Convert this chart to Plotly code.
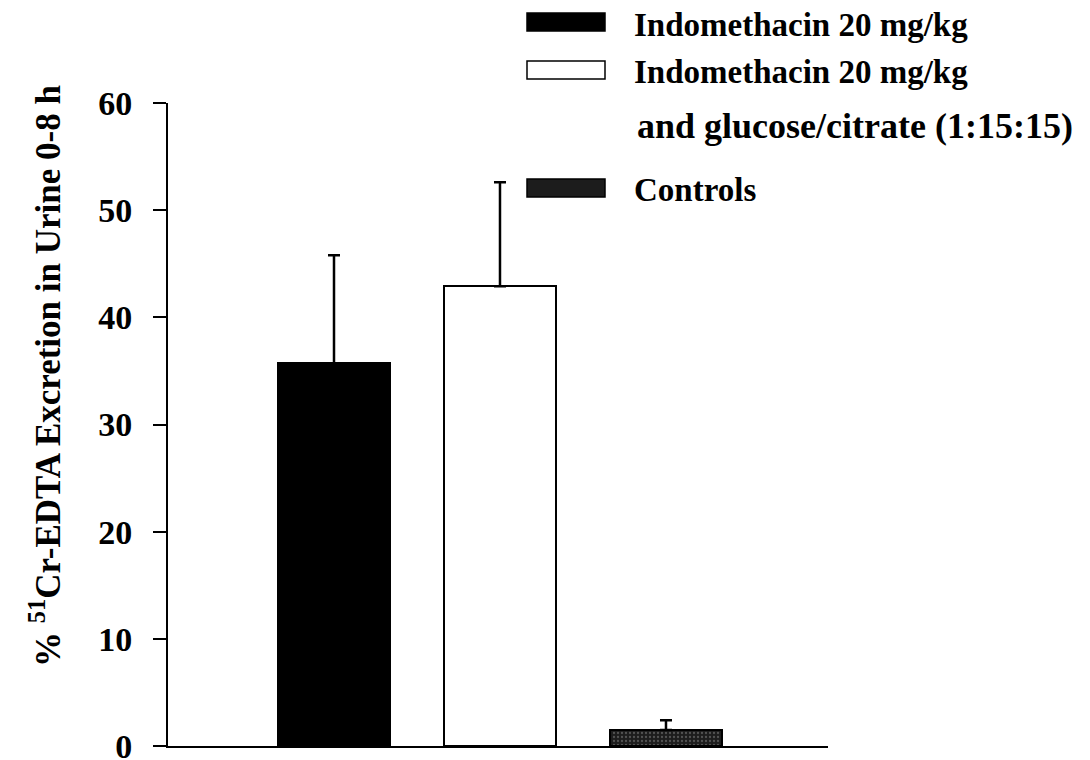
import plotly.graph_objects as go

groups = ["Indomethacin 20 mg/kg",
          "Indomethacin 20 mg/kg<br>and glucose/citrate (1:15:15)",
          "Controls"]
means = [35.7, 42.9, 1.5]
sd_upper = [10.1, 9.7, 0.9]
fills = ["#000000", "#ffffff", "#262626"]
y_ticks = [0, 10, 20, 30, 40, 50, 60]
y_title = "% <sup>51</sup>Cr-EDTA Excretion in Urine 0-8 h"

FONT = "Liberation Serif"
W, H = 1090, 760
L, R, T, B = 168, 262, 103, 14
pw, ph = W - L - R, H - T - B

def px_x(x):
    return (x - L) / pw

def px_y(y):
    return (H - B - y) / ph

fig = go.Figure()
for i, (g, m, e, c) in enumerate(zip(groups, means, sd_upper, fills)):
    marker = dict(color=c, line=dict(color="black", width=2))
    if i == 2:
        marker["pattern"] = dict(shape=".", bgcolor="#1c1c1c", fgcolor="#8a8a8a",
                                 size=4, solidity=0.25)
    fig.add_trace(go.Bar(
        x=[i], y=[m], name=g, width=0.675, marker=marker,
        error_y=dict(type="data", symmetric=False, array=[e], arrayminus=[0],
                     color="black", thickness=2.5, width=6),
        showlegend=False,
    ))

legend_rows = [(22, 25, "Indomethacin 20 mg/kg", "#000000", 33),
               (70, 72, "Indomethacin 20 mg/kg", "#ffffff", 33),
               (None, 126, "and glucose/citrate (1:15:15)", None, 36),
               (188, 190, "Controls", "#1c1c1c", 33)]
shapes = []
annotations = []
for sy, ty, txt, col, fs in legend_rows:
    if sy is not None:
        shapes.append(dict(type="rect", xref="paper", yref="paper",
                           x0=px_x(527), x1=px_x(605), y0=px_y(sy + 9), y1=px_y(sy - 9),
                           fillcolor=col, line=dict(color="black", width=1.5)))
    annotations.append(dict(xref="paper", yref="paper", x=px_x(632 if sy else 635),
                            y=px_y(ty), text=txt, showarrow=False, xanchor="left",
                            yanchor="middle",
                            font=dict(family=FONT, size=fs, color="black", weight="bold")))

annotations.append(dict(xref="paper", yref="paper", x=px_x(45), y=px_y(376),
                        text=y_title, textangle=-90, showarrow=False,
                        xanchor="center", yanchor="middle",
                        font=dict(family=FONT, size=35, color="black", weight="bold")))

fig.update_layout(
    width=W, height=H,
    margin=dict(l=L, r=R, t=T, b=B, autoexpand=False),
    paper_bgcolor="white", plot_bgcolor="white",
    bargap=0, barmode="overlay",
    shapes=shapes, annotations=annotations,
    xaxis=dict(range=[-1.0, 2.976], showticklabels=False, ticks="",
               showgrid=False, zeroline=False, showline=True,
               linecolor="black", linewidth=2),
    yaxis=dict(range=[0, 60], tickvals=y_ticks, ticks="outside", ticklen=13,
               tickwidth=2, tickcolor="black", showgrid=False, zeroline=False,
               showline=True, linecolor="black", linewidth=2,
               ticklabeloverflow="allow", ticklabelstandoff=14,
               tickfont=dict(family=FONT, size=34, color="black", weight="bold")),
    font=dict(family=FONT, color="black"),
)

fig.write_html("out.html")
